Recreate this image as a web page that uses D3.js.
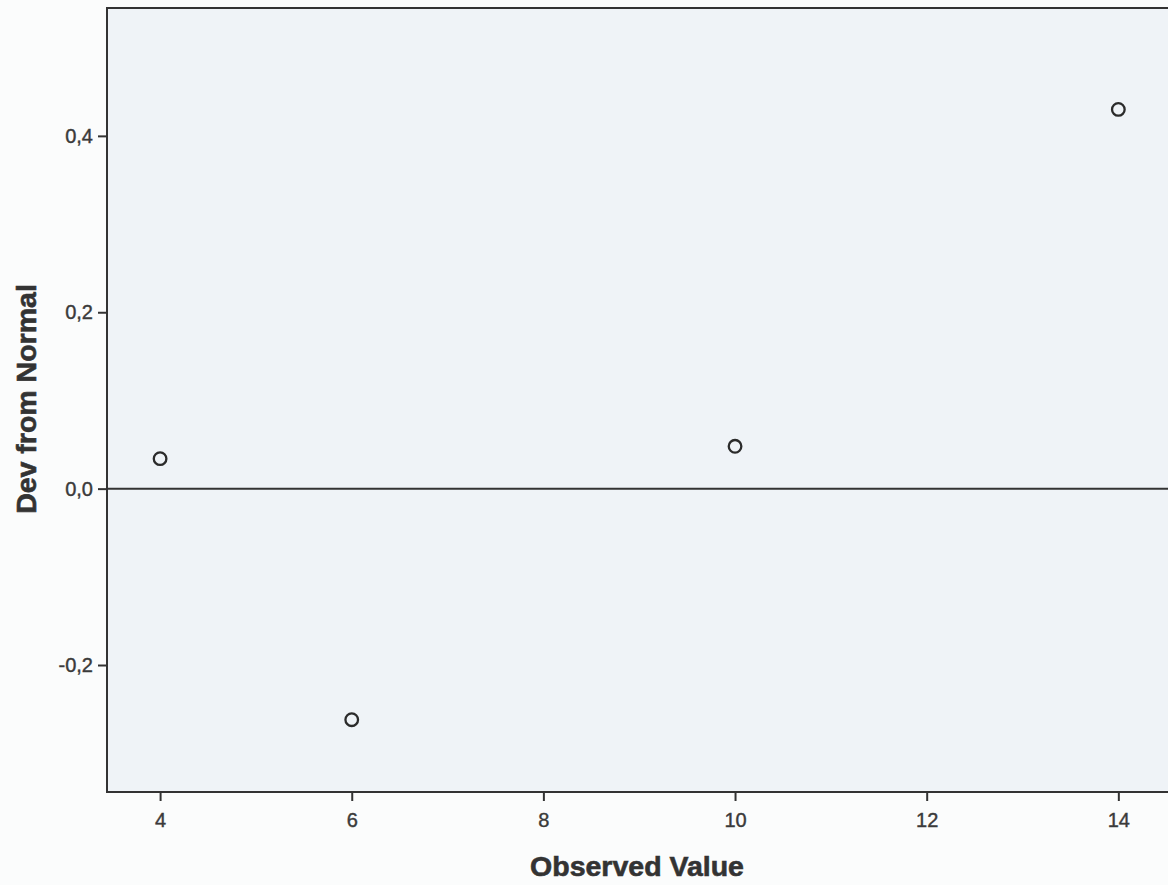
<!DOCTYPE html>
<html><head><meta charset="utf-8">
<script src="https://cdn.jsdelivr.net/npm/d3@7"></script>
<style>
html,body{margin:0;padding:0;background:#fbfcfc;}
svg{display:block;}
</style></head>
<body>
<svg id="chart" width="1168" height="885"></svg>
<script>
const xValues = [4, 6, 10, 14];
const yValues = [0.034, -0.262, 0.048, 0.43];
const xTicks = [4, 6, 8, 10, 12, 14];
const yTicks = [-0.2, 0.0, 0.2, 0.4];
const xTitle = "Observed Value";
const yTitle = "Dev from Normal";

(function () {
const svg = d3.select("#chart");
const pL = 107, pT = 8, pB = 792, pR = 1172;

const x = d3.scaleLinear().domain([3.446, 14.56]).range([pL, pR]);
const y = d3.scaleLinear().domain([-0.344, 0.545]).range([pB, pT]);

svg.append("rect").attr("x", pL).attr("y", pT)
  .attr("width", pR - pL).attr("height", pB - pT)
  .attr("fill", "#eff3f7").attr("stroke", "#333").attr("stroke-width", 2);

svg.append("line").attr("x1", pL).attr("x2", pR)
  .attr("y1", y(0)).attr("y2", y(0))
  .attr("stroke", "#333").attr("stroke-width", 2);

const fmt = d => d3.format(".1f")(d).replace(".", ",").replace("−", "-");

const xAxis = svg.append("g").attr("transform", `translate(0,${pB})`)
  .call(d3.axisBottom(x).tickValues(xTicks).tickSize(9).tickPadding(12).tickFormat(d3.format("d")));
const yAxis = svg.append("g").attr("transform", `translate(${pL},0)`)
  .call(d3.axisLeft(y).tickValues(yTicks).tickSize(9).tickPadding(5).tickFormat(fmt));

[xAxis, yAxis].forEach(g => {
  g.select(".domain").remove();
  g.selectAll(".tick line").attr("stroke", "#333").attr("stroke-width", 2);
  g.selectAll(".tick text").attr("fill", "#3a3a3a")
    .attr("stroke", "#3a3a3a").attr("stroke-width", 0.4)
    .style("font-family", "Liberation Sans, Arial, sans-serif")
    .style("font-size", "20px");
});

svg.append("g").selectAll("circle").data(xValues.map((v, i) => [v, yValues[i]]))
  .join("circle")
  .attr("cx", d => x(d[0])).attr("cy", d => y(d[1])).attr("r", 6.3)
  .attr("fill", "none").attr("stroke", "#2b2b2b").attr("stroke-width", 2.3);

svg.append("text").attr("x", 637).attr("y", 876).attr("text-anchor", "middle")
  .attr("fill", "#333").attr("stroke", "#333").attr("stroke-width", 0.6)
  .style("font-family", "Liberation Sans, Arial, sans-serif")
  .style("font-size", "28.5px").style("font-weight", "bold").text(xTitle);

svg.append("text").attr("transform", "translate(36,399) rotate(-90)")
  .attr("text-anchor", "middle").attr("fill", "#333").attr("stroke", "#333").attr("stroke-width", 0.6)
  .style("font-family", "Liberation Sans, Arial, sans-serif")
  .style("font-size", "28.5px").style("font-weight", "bold").text(yTitle);
})();
</script>
</body></html>
